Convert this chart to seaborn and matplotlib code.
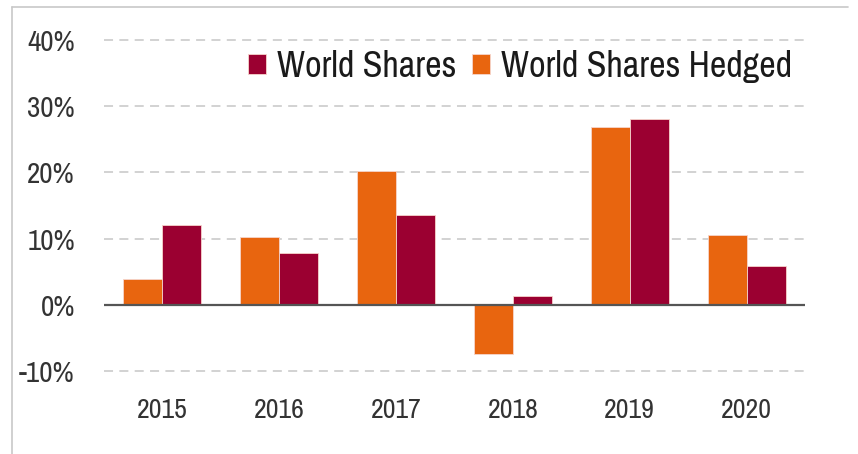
import numpy as np
import pandas as pd
import matplotlib
matplotlib.use("Agg")
import matplotlib.pyplot as plt
import seaborn as sns
from matplotlib.lines import Line2D
from matplotlib import font_manager

years = ["2015", "2016", "2017", "2018", "2019", "2020"]
world_shares = [12.0, 7.85, 13.6, 1.3, 28.0, 5.8]
world_hedged = [3.9, 10.3, 20.2, -7.5, 26.9, 10.5]
series_names = ["World Shares", "World Shares Hedged"]
yticks = [-10, 0, 10, 20, 30, 40]
ytick_labels = ["-10%", "0%", "10%", "20%", "30%", "40%"]

red = "#9b0031"
orange = "#e8650f"

frame = pd.DataFrame({
    "year": years * 2,
    "ret": world_shares + world_hedged,
    "series": [series_names[0]] * len(years) + [series_names[1]] * len(years),
})

# look for a condensed face, otherwise Roboto
names = sorted({f.name for f in font_manager.fontManager.ttflist})
narrow = [n for n in names if "Narrow" in n or "Condensed" in n]
family = narrow[:1] + ["Roboto", "DejaVu Sans"]

sns.set_style("white")
plt.rcParams["font.family"] = family

fig = plt.figure(figsize=(8.58, 4.54), dpi=100)
ax = fig.add_axes([0.1212, 0.1784, 0.8170, 0.7379])

# hedged on the left of each pair
sns.barplot(data=frame, x="year", y="ret", hue="series",
            hue_order=[series_names[1], series_names[0]],
            palette=[orange, red], saturation=1, width=0.667, gap=0,
            edgecolor="#f6d5cc", linewidth=0.6, ax=ax, legend=True)

ax.set_xlim(-0.5, 5.5)
ax.set_ylim(-10.3, 40.3)
ax.set_yticks(yticks)
ax.set_yticklabels(ytick_labels)
ax.yaxis.grid(True, linestyle=(0, (5, 3.5)), color="#cfcfcf", linewidth=1.3)
ax.set_axisbelow(True)
ax.axhline(0, color="#555555", linewidth=1.6, zorder=3)
for s in ax.spines.values():
    s.set_visible(False)
ax.tick_params(axis="both", length=0, colors="#333333")
ax.tick_params(axis="y", pad=21, labelsize=21)
ax.tick_params(axis="x", pad=18, labelsize=20)
ax.set_xlabel(None)
ax.set_ylabel(None)

handles, labels = ax.get_legend_handles_labels()
ax.legend([handles[1], handles[0]], [labels[1], labels[0]],
          loc="center right", bbox_to_anchor=(0.982, 0.915), ncol=2,
          frameon=False, fontsize=26, handlelength=0.5, handleheight=0.5,
          handletextpad=0.3, columnspacing=0.45, borderpad=0, borderaxespad=0,
          labelcolor="#1a1a1a")

# thin frame around the picture
fig.add_artist(Line2D([12 / 858, 848 / 858], [1 - 7 / 454, 1 - 7 / 454],
                      color="#c8c8c8", linewidth=1.2))
fig.add_artist(Line2D([12 / 858, 12 / 858], [0, 1 - 7 / 454],
                      color="#c8c8c8", linewidth=1.2))

fig.savefig("out.png", dpi=100)
